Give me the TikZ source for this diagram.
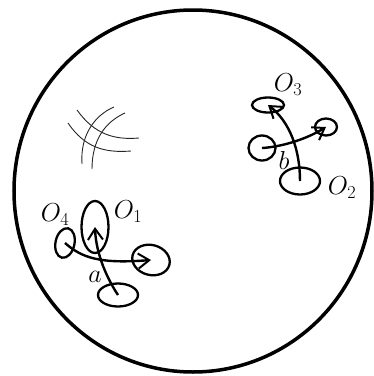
\documentclass[tikz,border=0pt]{standalone}
\usepackage{fix-cm}
\usetikzlibrary{arrows.meta,shapes.geometric}
\tikzset{
  blob/.style={draw, ellipse, line width=2.3pt, inner sep=0pt, minimum width=#1},
  flow/.style={line width=2.4pt, -{Straight Barb[length=11pt,width=15pt,line width=2pt]}},
  thin curve/.style={line width=0.9pt, draw=black!85},
  lbl/.style={inner sep=0pt, font=\fontsize{26}{31}\selectfont},
  rim/.style={line width=3.5pt}
}
\begin{document}
\begin{tikzpicture}[x=1pt,y=-1pt]
\useasboundingbox (0,0) rectangle (374,376);
% outer disc
\draw[rim] (193,191) ellipse [x radius=179, y radius=181];

% left cluster
\node[blob=27pt, minimum height=52pt] (o1) at (95,227) {};
\node[blob=19pt, minimum height=30pt, rotate=-12] (o4) at (65,243) {};
\node[blob=38pt, minimum height=30pt, rotate=-15] (e1) at (151,260) {};
\node[blob=40pt, minimum height=23pt] (e2) at (118,295) {};
\draw[flow] (e2.center) .. controls (108,280) and (96,255) .. (o1.center);
\draw[flow] (o4.center) .. controls (82,258) and (100,264) .. (e1.center);
\node[lbl] (lo4) at (55,215) {$O_4$};
\node[lbl] (lo1) at (128,212) {$O_1$};
\node[lbl] (la) at (95,277) {$a$};

% right cluster
\node[blob=32pt, minimum height=15pt] (o3) at (268,105) {};
\node[blob=27pt, minimum height=25pt] (e3) at (262,148) {};
\node[blob=22pt, minimum height=17pt] (e4) at (326,127) {};
\node[blob=40pt, minimum height=27pt] (o2) at (300,181) {};
\draw[flow] (o2.center) .. controls (300,150) and (290,122) .. (o3.center);
\draw[flow] (e3.center) .. controls (280,147) and (305,140) .. (e4.center);
\node[lbl] (lo3) at (288,85) {$O_3$};
\node[lbl] (lo2) at (342,188) {$O_2$};
\node[lbl] (lb) at (284,160) {$b$};

% crossing curves
\draw[thin curve] (77,110) .. controls (95,135) and (115,140) .. (139,138);
\draw[thin curve] (68,123) .. controls (85,148) and (105,153) .. (131,151);
\draw[thin curve] (114,107) .. controls (95,115) and (80,135) .. (82,164);
\draw[thin curve] (125,113) .. controls (105,122) and (92,140) .. (92,169);
\end{tikzpicture}
\end{document}
